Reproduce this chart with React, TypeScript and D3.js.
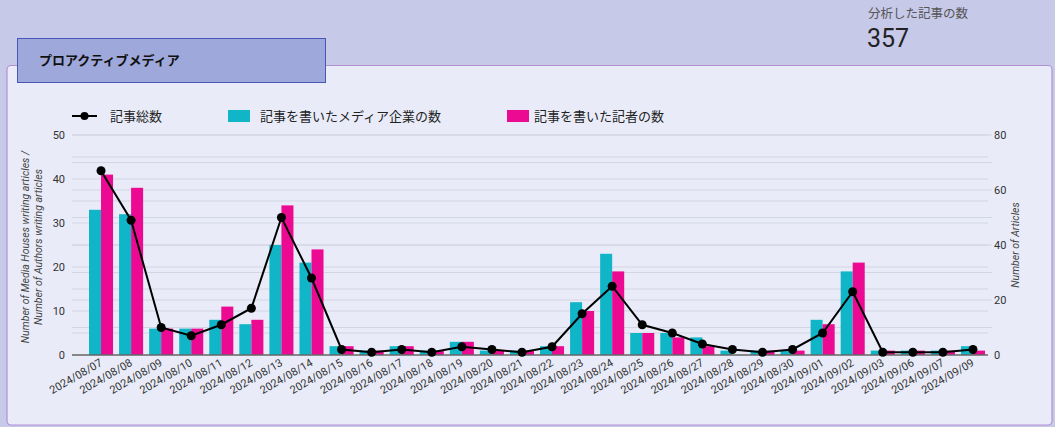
import React, { useEffect, useRef } from 'react'
import * as d3 from 'd3';

const dates = ['2024/08/07', '2024/08/08', '2024/08/09', '2024/08/10', '2024/08/11', '2024/08/12', '2024/08/13', '2024/08/14', '2024/08/15', '2024/08/16', '2024/08/17', '2024/08/18', '2024/08/19', '2024/08/20', '2024/08/21', '2024/08/22', '2024/08/23', '2024/08/24', '2024/08/25', '2024/08/26', '2024/08/27', '2024/08/28', '2024/08/29', '2024/08/30', '2024/09/01', '2024/09/02', '2024/09/03', '2024/09/06', '2024/09/07', '2024/09/09']
const mediaHouses = [33, 32, 6, 6, 8, 7, 25, 21, 2, 1, 2, 1, 3, 1, 1, 2, 12, 23, 5, 5, 4, 1, 1, 1, 8, 19, 1, 1, 1, 2]
const authors = [41, 38, 6, 6, 11, 8, 34, 24, 2, 1, 2, 1, 3, 1, 1, 2, 10, 19, 5, 4, 2, 0, 1, 1, 7, 21, 1, 1, 1, 1]
const articles = [67, 49, 10, 7, 11, 17, 50, 28, 2, 1, 2, 1, 3, 2, 1, 3, 15, 25, 11, 8, 4, 2, 1, 2, 8, 23, 1, 1, 1, 2]
const leftTicks = [0, 10, 20, 30, 40, 50]
const rightTicks = [0, 20, 40, 60, 80]

const FONT = "Roboto, 'Noto Sans CJK JP', sans-serif"
const CYAN = '#11b5c8'
const PINK = '#ec0a93'

const App = () => {
    const ref = useRef<SVGSVGElement>(null)

    useEffect(() => {
        const svg = d3.select(ref.current)
        svg.selectAll('*').remove()
        svg.style('font-family', FONT)

        // page background
        svg.append('rect').attr('width', 1055).attr('height', 427).attr('fill', '#c6c9e8')

        // counter top-right
        svg.append('text').attr('x', 868).attr('y', 18).attr('font-size', 12.5).attr('fill', '#555').text('分析した記事の数')
        svg.append('text').attr('x', 867).attr('y', 47).attr('font-size', 25).attr('fill', '#222').text('357')

        // panel
        svg.append('rect').attr('x', 7).attr('y', 65.5).attr('width', 1045).attr('height', 359.5).attr('rx', 4)
            .attr('fill', '#e9ecf8').attr('stroke', '#b48fd6').attr('stroke-width', 1.2)

        // tab
        svg.append('rect').attr('x', 17.5).attr('y', 38.5).attr('width', 308).attr('height', 44)
            .attr('fill', '#9fa8da').attr('stroke', '#4a56b6').attr('stroke-width', 1)
        svg.append('text').attr('x', 39).attr('y', 65).attr('font-size', 13).attr('font-weight', 600).attr('fill', '#111').text('プロアクティブメディア')

        const left = 72, right = 988, top = 135, bottom = 355

        const x = d3.scaleBand().domain(dates).range([86, 988]).paddingInner(0.2).paddingOuter(0.1)
        const sub = d3.scaleBand().domain(['m', 'a']).range([0, x.bandwidth()])
        const yL = d3.scaleLinear().domain([0, 50]).range([bottom, top])
        const yR = d3.scaleLinear().domain([0, 80]).range([bottom, top])

        // gridlines
        const grid = svg.append('g').attr('stroke', '#d2d5e2').attr('stroke-width', 1)
        d3.range(5, 51, 5).forEach(v => {
            grid.append('line').attr('x1', left).attr('x2', right).attr('y1', yL(v)).attr('y2', yL(v))
        })
        d3.range(10, 81, 10).forEach(v => {
            grid.append('line').attr('x1', left).attr('x2', right + 4).attr('y1', yR(v)).attr('y2', yR(v))
        })

        // left axis labels
        svg.append('g').selectAll('text').data(leftTicks).enter().append('text')
            .attr('x', 65).attr('y', d => yL(d)).attr('dy', '0.35em').attr('text-anchor', 'end')
            .attr('font-size', 11).attr('fill', '#333').text(d => d)
        // right axis labels
        svg.append('g').selectAll('text').data(rightTicks).enter().append('text')
            .attr('x', 994).attr('y', d => yR(d)).attr('dy', '0.35em')
            .attr('font-size', 11).attr('fill', '#333').text(d => d)

        // axis titles
        const lt = svg.append('text').attr('transform', 'translate(29,247) rotate(-90)').attr('text-anchor', 'middle')
            .attr('font-size', 10.5).attr('font-style', 'italic').attr('fill', '#444')
        lt.append('tspan').attr('x', 0).attr('dy', 0).text('Number of Media Houses writing articles /')
        lt.append('tspan').attr('x', 0).attr('dy', 13).text('Number of Authors writing articles')
        svg.append('text').attr('transform', 'translate(1019,245) rotate(-90)').attr('text-anchor', 'middle')
            .attr('font-size', 10.5).attr('font-style', 'italic').attr('fill', '#444').text('Number of Articles')

        // bars
        const bars = svg.append('g')
        bars.selectAll('rect.m').data(dates).enter().append('rect')
            .attr('x', d => (x(d) || 0) + (sub('m') || 0)).attr('width', sub.bandwidth())
            .attr('y', (d, i) => yL(mediaHouses[i])).attr('height', (d, i) => bottom - yL(mediaHouses[i]))
            .attr('fill', CYAN)
        bars.selectAll('rect.a').data(dates).enter().append('rect')
            .attr('x', d => (x(d) || 0) + (sub('a') || 0)).attr('width', sub.bandwidth())
            .attr('y', (d, i) => yL(authors[i])).attr('height', (d, i) => bottom - yL(authors[i]))
            .attr('fill', PINK)

        // baseline
        svg.append('line').attr('x1', left).attr('x2', right).attr('y1', bottom).attr('y2', bottom)
            .attr('stroke', '#666').attr('stroke-width', 1.5)

        // x labels
        svg.append('g').selectAll('text').data(dates).enter().append('text')
            .attr('transform', d => `translate(${(x(d) || 0) + x.bandwidth() / 2 + 2},${bottom + 10}) rotate(-30)`)
            .attr('text-anchor', 'end').attr('font-size', 11).attr('fill', '#333').text(d => d)

        // line
        const cx = (d: string) => (x(d) || 0) + x.bandwidth() / 2
        const line = d3.line<number>().x((d, i) => cx(dates[i])).y(d => yR(d))
        svg.append('path').datum(articles).attr('d', line).attr('fill', 'none').attr('stroke', '#000').attr('stroke-width', 2)
        svg.append('g').selectAll('circle').data(articles).enter().append('circle')
            .attr('cx', (d, i) => cx(dates[i])).attr('cy', d => yR(d)).attr('r', 4.5).attr('fill', '#000')

        // legend
        const lg = svg.append('g').attr('font-size', 13).attr('fill', '#222')
        lg.append('line').attr('x1', 72).attr('x2', 97).attr('y1', 116).attr('y2', 116).attr('stroke', '#000').attr('stroke-width', 2)
        lg.append('circle').attr('cx', 84.5).attr('cy', 116).attr('r', 4).attr('fill', '#000')
        lg.append('text').attr('x', 110).attr('y', 116).attr('dy', '0.35em').text('記事総数')
        lg.append('rect').attr('x', 228).attr('y', 110).attr('width', 22).attr('height', 12).attr('fill', CYAN)
        lg.append('text').attr('x', 260).attr('y', 116).attr('dy', '0.35em').text('記事を書いたメディア企業の数')
        lg.append('rect').attr('x', 507).attr('y', 110).attr('width', 22).attr('height', 12).attr('fill', PINK)
        lg.append('text').attr('x', 534).attr('y', 116).attr('dy', '0.35em').text('記事を書いた記者の数')
    }, [])

    return (
        <svg ref={ref} width={1055} height={427} style={{ position: 'absolute', left: 0, top: 0, display: 'block' }}></svg>
    )
}

export default App
